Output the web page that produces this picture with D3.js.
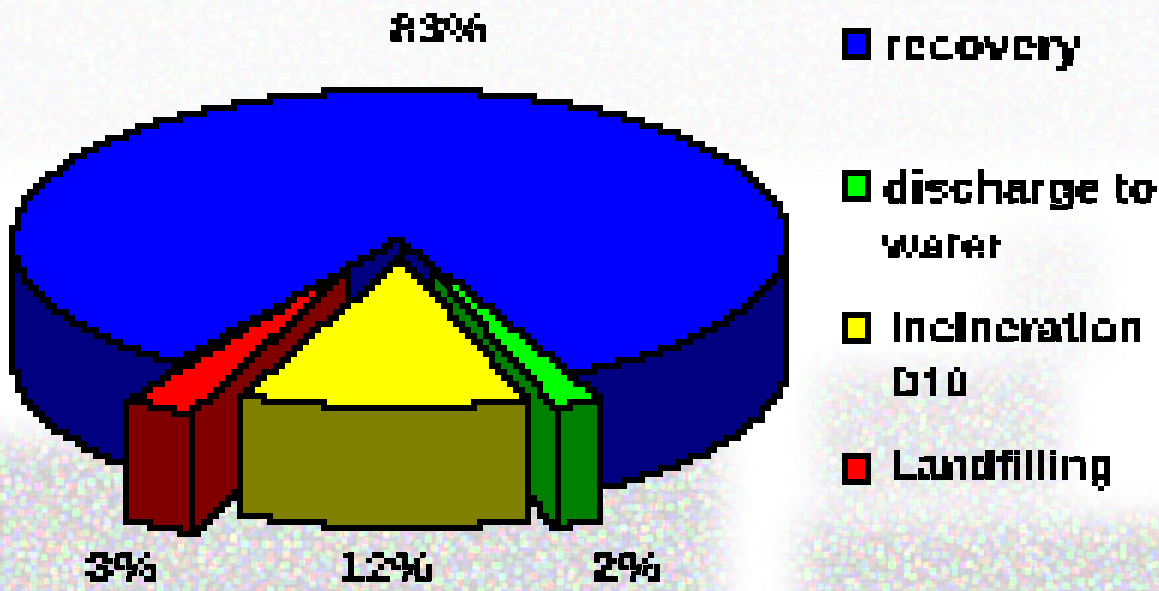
<!DOCTYPE html>
<html>
<head>
<meta charset="utf-8">
<script src="https://cdn.jsdelivr.net/npm/d3@7"></script>
<style>
html, body { margin: 0; padding: 0; background: #fff; overflow: hidden; }
text { font-family: "Liberation Sans", Arial, sans-serif; font-weight: bold; fill: #000; }
</style>
</head>
<body>
<svg id="chart" width="1159" height="591"></svg>
<script>
// values
var categories = ["recovery", "discharge to water", "Incineration D10", "Landfilling"];
var shares = [83, 2, 12, 3];
var topColors = ["#0000ff", "#00ff00", "#ffff00", "#ff0000"];
var wallColors = ["#000080", "#008000", "#808000", "#800000"];
var pctLabels = ["83%", "2%", "12%", "3%"];

var W = 1159, H = 591;
var GRID = 6;   // the source is a blown up gif, everything sits on a 6px grid
var cx = 400, cy = 240, rx = 387, ry = 150, depth = 120;
var rad = Math.PI / 180;

// where the cut out slices were pulled to. rim moves the arc, apex moves the point,
// cut trims the thin tip that is hidden in the original
var pulled = {
    1: { rim: [29, 25], apex: [18, 14], cut: 0.2, wallCut: 0.1 },
    2: { rim: [0, 18], apex: [0, 18], cut: 0, wallCut: 0 },
    3: { rim: [-50, 37], apex: [-35, 15], cut: 0.18, wallCut: 0.1 }
};

var svg = d3.select("#chart");
var defs = svg.append("defs");

// block sampling, used for the speckle and the text
var mosaic = function(f, input){
    f.append("feFlood").attr("x", 2).attr("y", 2).attr("width", 2).attr("height", 2).attr("flood-color", "#000");
    f.append("feComposite").attr("width", GRID).attr("height", GRID).attr("operator", "over").attr("in2", "SourceAlpha");
    f.append("feTile").attr("result", "tile");
    f.append("feComposite").attr("in", input).attr("in2", "tile").attr("operator", "in");
    f.append("feMorphology").attr("operator", "dilate").attr("radius", 2);
};

// ---- background speckle ----
var noise = defs.append("filter").attr("id", "noise")
    .attr("filterUnits", "userSpaceOnUse")
    .attr("x", 0).attr("y", 0).attr("width", W).attr("height", H)
    .attr("color-interpolation-filters", "sRGB");
noise.append("feTurbulence").attr("type", "fractalNoise")
    .attr("baseFrequency", 0.19).attr("numOctaves", 1).attr("seed", 7);
noise.append("feColorMatrix").attr("type", "matrix").attr("result", "raw")
    .attr("values", "3 0 0 0 -1.6  0 3 0 0 -1.6  0 0 3 0 -1.6  0 0 0 0 1");
mosaic(noise, "raw");
var tr = noise.append("feComponentTransfer");
["feFuncR", "feFuncG", "feFuncB"].forEach(function(f){
    tr.append(f).attr("type", "discrete").attr("tableValues", "0.8 0.84 0.84 0.9 0.95 1 1 1");
});

var blur = defs.append("filter").attr("id", "soft")
    .attr("filterUnits", "userSpaceOnUse")
    .attr("x", 0).attr("y", 0).attr("width", W).attr("height", H);
blur.append("feGaussianBlur").attr("stdDeviation", 18);

var mask = defs.append("mask").attr("id", "speckle")
    .attr("maskUnits", "userSpaceOnUse")
    .attr("x", 0).attr("y", 0).attr("width", W).attr("height", H);
var blobs = mask.append("g").attr("filter", "url(#soft)");
blobs.append("rect").attr("x", -40).attr("y", 440).attr("width", 760).attr("height", 200).attr("fill", "#fff");
blobs.append("rect").attr("x", 800).attr("y", 520).attr("width", 400).attr("height", 100).attr("fill", "#fff");
blobs.append("rect").attr("x", 820).attr("y", 370).attr("width", 240).attr("height", 130).attr("fill", "#aaa");
blobs.append("rect").attr("x", 1000).attr("y", 230).attr("width", 100).attr("height", 130).attr("fill", "#444");
blobs.append("rect").attr("x", -40).attr("y", -40).attr("width", 1240).attr("height", 200).attr("fill", "#2a2a2a");

svg.append("rect").attr("width", W).attr("height", H).attr("fill", "#fff");
svg.append("g").attr("mask", "url(#speckle)")
    .append("rect").attr("width", W).attr("height", H).attr("filter", "url(#noise)");

// ---- chunky text ----
var pix = defs.append("filter").attr("id", "pix")
    .attr("filterUnits", "userSpaceOnUse")
    .attr("x", 0).attr("y", 0).attr("width", W).attr("height", H);
mosaic(pix, "SourceGraphic");
pix.append("feComponentTransfer").append("feFuncA").attr("type", "discrete").attr("tableValues", "0 0 1 1");

// ---- pie geometry ----
var pie = d3.pie().sort(null).startAngle(-145.1 * rad).endAngle(214.9 * rad);
var slices = pie(shares);

var rim = function(a, off){
    return [cx + off[0] + rx * Math.sin(a), cy + off[1] - ry * Math.cos(a)];
};

// walk along the outline, snap to the grid, draw as stairs
var stairs = d3.line().curve(d3.curveStepAfter);
var toPath = function(pts){
    var out = [];
    var push = function(p){
        var q = [Math.round(p[0] / GRID) * GRID, Math.round(p[1] / GRID) * GRID];
        var l = out[out.length - 1];
        if (!l || l[0] != q[0] || l[1] != q[1]) out.push(q);
    };
    for (var i = 0; i < pts.length; i++){
        var a = pts[i], b = pts[(i + 1) % pts.length];
        var n = Math.ceil(Math.hypot(b[0] - a[0], b[1] - a[1]) / 3) || 1;
        for (var k = 0; k < n; k++){
            push([a[0] + (b[0] - a[0]) * k / n, a[1] + (b[1] - a[1]) * k / n]);
        }
    }
    return stairs(out) + "Z";
};

var arcPts = function(a0, a1, off, dy){
    var pts = [], n = Math.max(2, Math.ceil(Math.abs(a1 - a0) / rad));
    for (var i = 0; i <= n; i++){
        var p = rim(a0 + (a1 - a0) * i / n, off);
        pts.push([p[0], p[1] + dy]);
    }
    return pts;
};
// point on the edge from the apex out to the rim
var onEdge = function(a, pull, f){
    var p = rim(a, pull.rim), ax = cx + pull.apex[0], ay = cy + pull.apex[1];
    return [ax + (p[0] - ax) * f, ay + (p[1] - ay) * f];
};
var topPts = function(s, pull){
    return [onEdge(s.endAngle, pull, pull.cut), onEdge(s.startAngle, pull, pull.cut)]
        .concat(arcPts(s.startAngle, s.endAngle, pull.rim, 0));
};
var frontPts = function(a0, a1, off){
    return arcPts(a0, a1, off, 0).concat(arcPts(a1, a0, off, depth));
};
var sidePts = function(a, pull){
    var p = rim(a, pull.rim), t = onEdge(a, pull, pull.wallCut);
    return [t, p, [p[0], p[1] + depth], [t[0], t[1] + depth]];
};

var g = svg.append("g").attr("shape-rendering", "crispEdges")
    .attr("stroke", "#000").attr("stroke-width", 6).attr("stroke-linejoin", "miter");
var draw = function(pts, color){
    g.append("path").attr("d", toPath(pts)).attr("fill", color);
};

// big slice: outer wall, inner cut walls, then the lid
var big = slices[0], still = { rim: [0, 0], apex: [0, 0], cut: 0, wallCut: 0 };
draw(frontPts(90 * rad, big.endAngle, still.rim), wallColors[0]);
draw(frontPts(big.startAngle, -90 * rad, still.rim), wallColors[0]);
draw(sidePts(big.endAngle, still), wallColors[0]);
draw(sidePts(big.startAngle, still), wallColors[0]);
draw(topPts(big, still), topColors[0]);

// pulled slices, back to front: red, green, yellow
var s3 = slices[3], s1 = slices[1], s2 = slices[2];
draw(sidePts(s3.startAngle, pulled[3]), wallColors[3]);
draw(frontPts(s3.startAngle, s3.endAngle, pulled[3].rim), wallColors[3]);
draw(topPts(s3, pulled[3]), topColors[3]);

draw(sidePts(s1.endAngle, pulled[1]), wallColors[1]);
draw(frontPts(s1.startAngle, s1.endAngle, pulled[1].rim), wallColors[1]);
draw(topPts(s1, pulled[1]), topColors[1]);

draw(frontPts(s2.startAngle, s2.endAngle, pulled[2].rim), wallColors[2]);
draw(topPts(s2, pulled[2]), topColors[2]);

// ---- labels ----
var txt = svg.append("g").attr("filter", "url(#pix)");
var label = function(s, x, y, w){
    txt.append("text").attr("x", x).attr("y", y)
        .attr("font-size", 42)
        .attr("textLength", w).attr("lengthAdjust", "spacingAndGlyphs")
        .text(s);
};
label(pctLabels[0], 390, 44, 98);
label(pctLabels[1], 590, 582, 73);
label(pctLabels[2], 338, 582, 95);
label(pctLabels[3], 85, 582, 75);

// ---- legend ----
var legendLines = [[categories[0]], ["discharge to", "water"], ["Incineration", "D10"], [categories[3]]];
var swatchTop = [31, 173, 315, 456];
var lineSpots = [[[883, 60, 199]], [[883, 202, 274], [883, 260, 122]], [[889, 343, 256], [889, 398, 81]], [[889, 480, 226]]];
legendLines.forEach(function(lines, i){
    svg.append("rect").attr("x", 845).attr("y", swatchTop[i]).attr("width", 23).attr("height", 26)
        .attr("fill", topColors[i]).attr("stroke", "#000").attr("stroke-width", 6)
        .attr("shape-rendering", "crispEdges");
    lines.forEach(function(t, j){
        var s = lineSpots[i][j];
        label(t, s[0], s[1], s[2]);
    });
});
</script>
</body>
</html>
